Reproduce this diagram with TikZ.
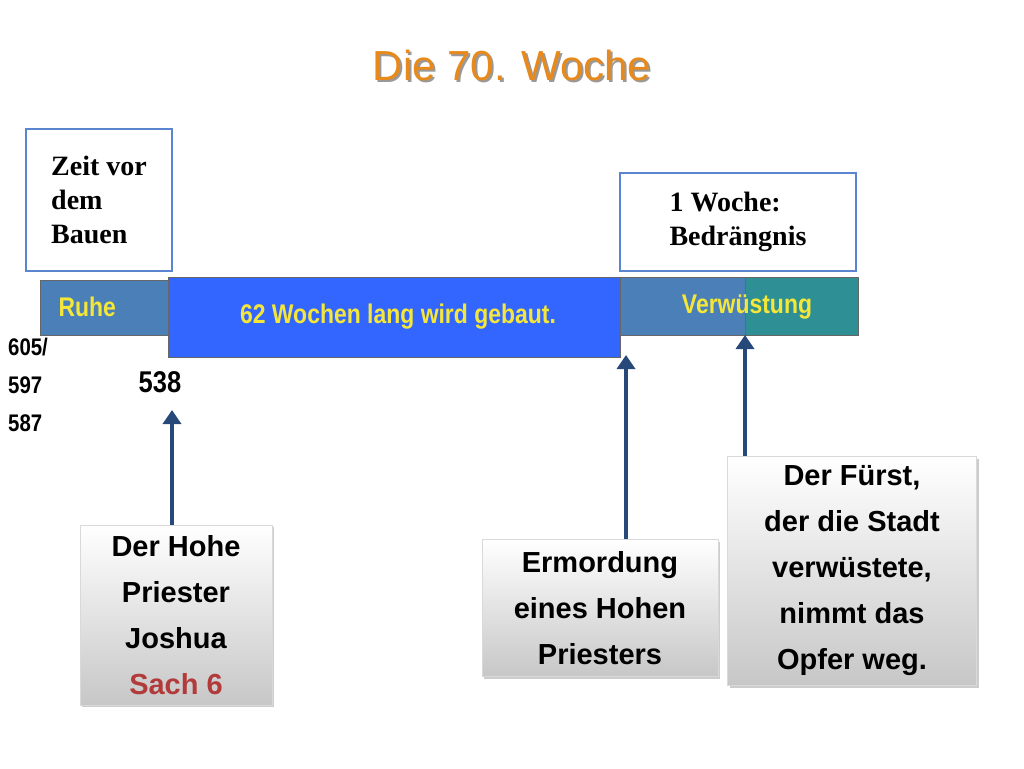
\documentclass[tikz,border=0pt]{standalone}
\usepackage{fontspec}
\setmainfont{Liberation Sans}
\newfontfamily\serifb{Liberation Serif}
\usetikzlibrary{shadows,arrows.meta}
\definecolor{ttl}{HTML}{E8891C}
\definecolor{steel}{HTML}{4A7FB8}
\definecolor{bright}{HTML}{3366FF}
\definecolor{tealb}{HTML}{2E8F94}
\definecolor{arr}{HTML}{27497A}
\definecolor{ylw}{HTML}{F5E63A}
\definecolor{outl}{HTML}{5B85D0}
\definecolor{sachred}{HTML}{B23A3A}
\begin{document}
\begin{tikzpicture}[x=1pt,y=-1pt,
  outbox/.style={draw=outl,line width=2pt,fill=white,align=left,anchor=north west,inner sep=5pt,font=\serifb\bfseries\fontsize{28}{34}\selectfont},
  bar/.style={anchor=north west,inner sep=0pt,draw=black!60,line width=0.4pt},
  bartext/.style={text=ylw,font=\bfseries\fontsize{27}{30}\selectfont},
  graybox/.style={top color=white,bottom color=black!22,draw=black!15,drop shadow={shadow xshift=2pt,shadow yshift=-2pt,opacity=0.4},align=center,font=\bfseries\fontsize{29}{46}\selectfont,inner sep=4pt},
  uparrow/.style={arr,line width=4pt,-{Triangle[length=14pt,width=18pt]}}]
\useasboundingbox (0,0) rectangle (1024,768);
\node[text=black!40,font=\fontsize{42}{48}\selectfont] at (514,67) {Die 70. Woche};
\node (title) [text=ttl,font=\fontsize{42}{48}\selectfont] at (512,65) {Die 70. Woche};
% bars
\node (ruhe) [bar,fill=steel,minimum width=130pt,minimum height=55pt] at (40,280) {};
\node[bartext,anchor=west] at (55,307) {\scalebox{0.85}[1]{Ruhe}};
\node (verw) [bar,fill=steel,minimum width=126pt,minimum height=58pt] at (619,277) {};
\node (teal) [bar,fill=tealb,minimum width=113pt,minimum height=58pt] at (745,277) {};
\node[bartext] at (747,307) {\scalebox{0.85}[1]{Verwüstung}};
\node (main) [bar,fill=bright,minimum width=452pt,minimum height=80pt] at (168,277) {};
\node[bartext] at (398,317) {\scalebox{0.85}[1]{62 Wochen lang wird gebaut.}};
% top boxes
\node (zeit) [outbox,minimum width=146pt,minimum height=142pt,inner sep=6pt] at (25,128) {Zeit vor\\dem\\Bauen};
\node (woche) [outbox,minimum width=236pt,minimum height=98pt] at (619,172) {1 Woche:\\Bedrängnis};
% years
\node (years) [anchor=north west,align=left,inner sep=0pt,font=\bfseries\fontsize{24}{38}\selectfont] at (8,338) {\scalebox{0.85}[1]{605/}\\\scalebox{0.85}[1]{597}\\\scalebox{0.85}[1]{587}};
\node (y538) [font=\bfseries\fontsize{30}{34}\selectfont] at (160,382) {\scalebox{0.85}[1]{538}};
% bottom boxes
\node (hohe) [graybox,minimum width=192pt,minimum height=180pt] at (176,615) {Der Hohe\\Priester\\Joshua\\\textcolor{sachred}{Sach 6}};
\node (mord) [graybox,minimum width=236pt,minimum height=137pt] at (600,608) {Ermordung\\eines Hohen\\Priesters};
\node (fuerst) [graybox,minimum width=249pt,minimum height=229pt] at (852,571) {Der Fürst,\\der die Stadt\\verwüstete,\\nimmt das\\Opfer weg.};
% arrows
\coordinate (a1) at (172,410);
\coordinate (a2) at (626,355);
\coordinate (a3) at (745,335);
\draw[uparrow] (hohe.north -| a1) -- (a1);
\draw[uparrow] (mord.north -| a2) -- (a2);
\draw[uparrow] (fuerst.north -| a3) -- (a3);
\end{tikzpicture}
\end{document}
